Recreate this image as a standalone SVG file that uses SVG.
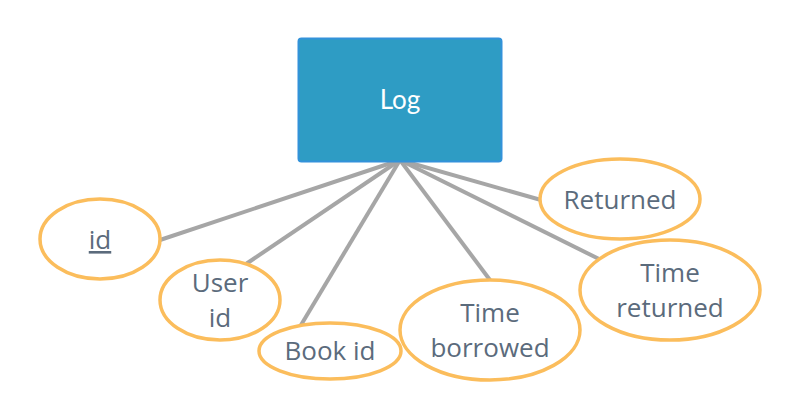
<svg xmlns="http://www.w3.org/2000/svg" width="800" height="420" viewBox="0 0 800 420">
<style>
.attr ellipse{fill:#fff;stroke:#fbbd5c;stroke-width:3.5}
.attr text{font-family:"Open Sans","Noto Sans",sans-serif;font-size:26px;fill:#5b6b7c;text-anchor:middle}
.conn line{stroke:#a6a6a6;stroke-width:4;stroke-linecap:butt}
</style>
<rect width="800" height="420" fill="#fff"/>
<g class="conn" id="connectors">
<line x1="400" y1="160" x2="160" y2="240"/>
<line x1="400" y1="160" x2="243" y2="266"/>
<line x1="400" y1="160" x2="301" y2="325"/>
<line x1="400" y1="160" x2="490" y2="280"/>
<line x1="400" y1="160" x2="541" y2="200"/>
<line x1="400" y1="160" x2="599" y2="259"/>
</g>
<g id="log">
<rect x="298.5" y="38.5" width="203" height="123" rx="3" fill="#2e9cc4" stroke="#3392da" stroke-width="2"/>
<text x="400" y="109" font-family="Lato,'Open Sans',sans-serif" font-size="26" fill="#fff" text-anchor="middle">Log</text>
</g>
<g class="attr" id="attr-id">
<ellipse cx="100" cy="239" rx="60" ry="40"/>
<text x="100" y="249" text-decoration="underline">id</text>
</g>
<g class="attr" id="attr-userid">
<ellipse cx="220" cy="300" rx="60" ry="40"/>
<text x="220" y="292">User</text>
<text x="220" y="327">id</text>
</g>
<g class="attr" id="attr-bookid">
<ellipse cx="330" cy="351" rx="71" ry="28"/>
<text x="330" y="360">Book id</text>
</g>
<g class="attr" id="attr-timeborrowed">
<ellipse cx="490" cy="330" rx="90" ry="50"/>
<text x="490" y="322">Time</text>
<text x="490" y="357">borrowed</text>
</g>
<g class="attr" id="attr-returned">
<ellipse cx="620" cy="199" rx="80" ry="40"/>
<text x="620" y="209">Returned</text>
</g>
<g class="attr" id="attr-timereturned">
<ellipse cx="670" cy="290" rx="90" ry="50"/>
<text x="670" y="282">Time</text>
<text x="670" y="317">returned</text>
</g>
</svg>
